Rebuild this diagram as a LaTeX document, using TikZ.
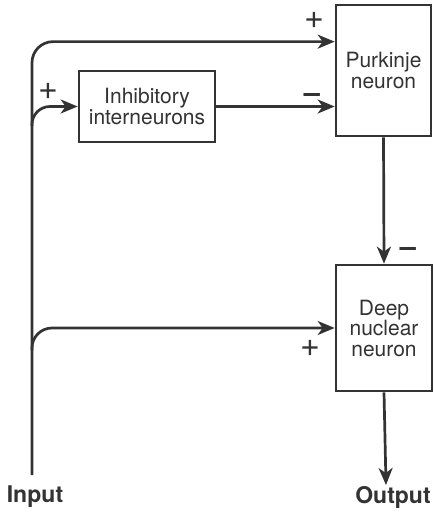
\documentclass[tikz,border=0pt]{standalone}
\usepackage{fontspec}
\setmainfont{TeX Gyre Heros}
\usetikzlibrary{arrows.meta, calc}

\definecolor{ink}{HTML}{333333}
\tikzset{
  cell/.style={draw=ink, line width=2.7pt, fill=white, align=center,
    text=ink, inner sep=0pt, font=\fontsize{21}{20.5}\selectfont},
  sig/.style={draw=ink, line width=2.7pt,
    -{Stealth[length=17pt, width=14pt, inset=5pt]}},
  sign/.style={text=ink, inner sep=0pt, font=\fontsize{34}{34}\selectfont},
  minus/.style={text=ink, inner sep=0pt, font=\fontsize{29}{29}\selectfont\bfseries},
  io/.style={text=ink, inner sep=0pt, font=\fontsize{23}{23}\selectfont\bfseries},
}

\begin{document}
\begin{tikzpicture}[x=1pt, y=-1pt]
  \useasboundingbox (0,0) rectangle (433,513);
  % cells
  \node[cell, minimum width=95pt, minimum height=131pt] (purk) at (383.5,70.5) {Purkinje\\neuron};
  \node[cell, minimum width=136pt, minimum height=71pt] (inh) at (147,106.5) {Inhibitory\\interneurons};
  \node[cell, minimum width=96pt, minimum height=126pt] (deep) at (384,328) {Deep\\nuclear\\neuron};
  % input and output
  \node[io] (input) at (35,497) {Input};
  \node[io] (output) at (393,497) {Output};
  \coordinate (in) at (32,475);
  \coordinate (out) at (386,485);
  \coordinate (b1) at (32,126);
  \coordinate (b2) at (32,350);
  % connections
  \draw[sig, rounded corners=21pt] (in) |- ([yshift=-38pt]purk.north west);
  \draw[sig, rounded corners=18pt] (b1) |- (inh.west);
  \draw[sig] (inh.east) -- (inh.east -| purk.west);
  \draw[sig, rounded corners=20pt] (b2) |- (deep.west);
  \draw[sig] (purk.south) -- (deep.north);
  \draw[sig] (deep.south) -- (out);
  % excitatory / inhibitory marks
  \node[sign] (p1) at (314,20) {+};
  \node[sign] (p2) at (48,91) {+};
  \node[minus] (m1) at (312,97.5) {–};
  \node[minus] (m2) at (408,251.5) {–};
  \node[sign] (p3) at (310,348) {+};
\end{tikzpicture}
\end{document}
